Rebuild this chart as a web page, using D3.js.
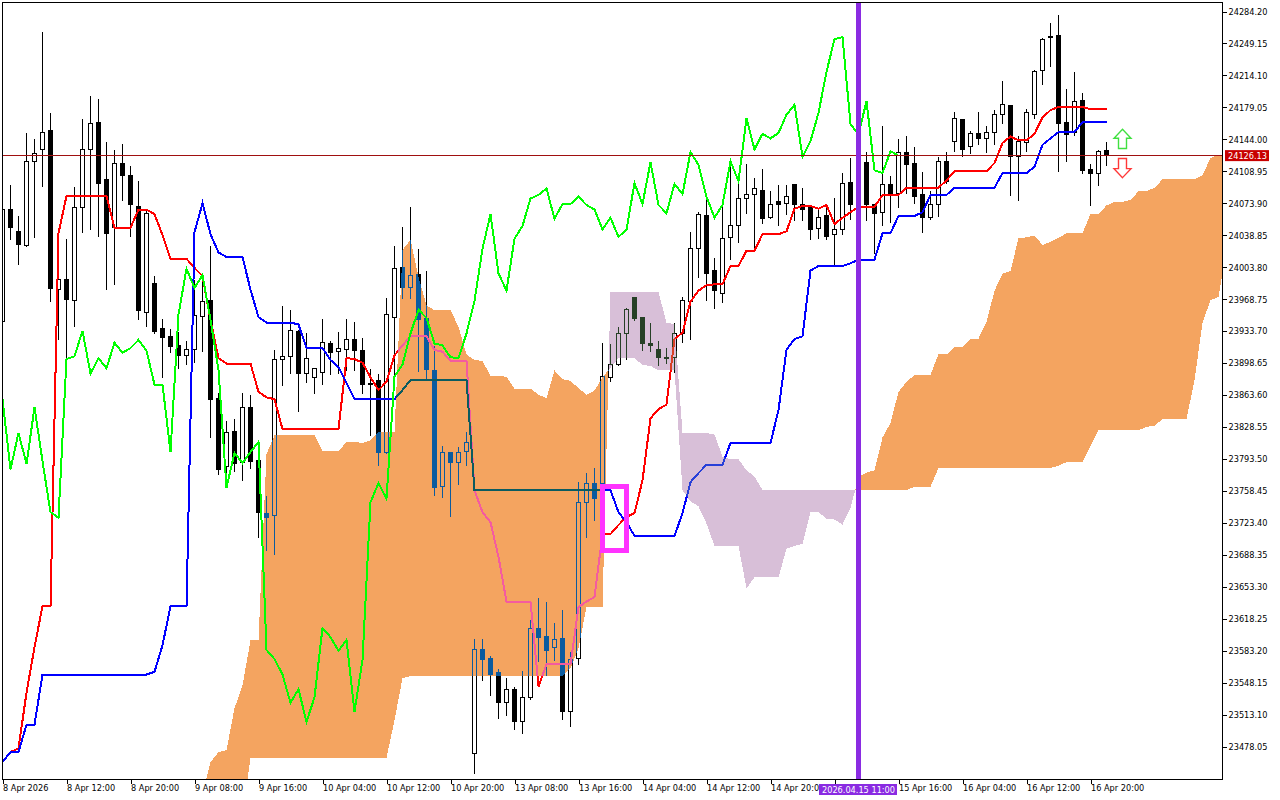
<!DOCTYPE html>
<html><head><meta charset="utf-8">
<script src="https://cdn.jsdelivr.net/npm/d3@7"></script>
<style>
html,body{margin:0;padding:0;background:#fff}
svg{display:block}
text{font-family:"DejaVu Sans Condensed","Liberation Sans",sans-serif;font-size:9.1px;fill:#000}
</style></head><body>
<svg id="c" width="1280" height="800"></svg>
<script>
const opens=[23944,24067,24043,24028,24120,24133,24154,23979,23990,23967,24069,24133,24162,24100,24047,24117,24104,24070,23954,23986,23936,23928,23918,23907,23913,23950,23967,23860,23785,23823,23790,23850,23792,23734,23731,23902,23906,23933,23887,23883,23888,23920,23911,23914,23924,23912,23876,23879,23801,23949,24003,23982,23996,23947,23890,23763,23800,23789,23802,23470,23584,23575,23559,23526,23541,23505,23532,23607,23599,23587,23597,23516,23575,23746,23767,23767,23883,23897,23931,23970,23949,23920,23914,23905,23905,23931,23966,24024,24061,24000,23975,24036,24049,24079,24083,24088,24058,24076,24074,24095,24073,24069,24046,24060,24040,24045,24097,24073,24119,24073,24064,24095,24085,24130,24118,24083,24058,24072,24120,24142,24166,24136,24150,24145,24151,24171,24181,24125,24141,24171,24219,24257,24258,24163,24151,24187,24111,24107,24132];
const highs=[24067,24095,24061,24152,24145,24262,24173,23992,24035,24092,24167,24192,24189,24142,24133,24139,24115,24099,24067,23995,23948,23937,23933,23923,23990,23990,24028,23866,23836,23838,23866,23864,23792,23753,23914,23962,23957,23935,23932,23893,23947,23923,23933,23948,23944,23927,23893,23887,23970,24028,24048,24070,24024,24000,23918,23808,23801,23807,23823,23596,23596,23578,23564,23554,23544,23561,23617,23641,23637,23614,23628,23582,23769,23779,23784,23921,23920,23939,23959,23970,23949,23943,23923,23916,23943,23972,24043,24065,24080,24014,24070,24118,24103,24117,24102,24112,24088,24094,24094,24095,24091,24069,24067,24072,24080,24108,24124,24132,24131,24073,24159,24104,24145,24148,24136,24109,24088,24125,24131,24175,24167,24154,24175,24159,24177,24208,24182,24148,24178,24221,24256,24272,24281,24200,24218,24195,24118,24133,24142];
const lows=[23944,24035,24008,24027,24037,24093,23967,23925,23903,23940,24043,24046,24039,23980,23986,24078,24038,23948,23940,23932,23884,23911,23894,23898,23900,23912,23818,23778,23763,23781,23771,23784,23708,23694,23690,23875,23888,23847,23878,23866,23876,23887,23888,23891,23891,23866,23820,23787,23800,23882,23971,23971,23890,23881,23754,23752,23731,23767,23787,23449,23551,23535,23510,23513,23498,23493,23531,23572,23557,23574,23509,23501,23569,23708,23727,23754,23880,23897,23904,23946,23913,23912,23897,23899,23889,23922,23926,23993,23968,23960,23966,24013,24032,24064,24023,24053,24058,24051,24063,24056,24056,24035,24036,24035,24006,24041,24057,24067,24056,24020,24051,24054,24070,24086,24075,24043,24057,24061,24097,24132,24126,24130,24139,24131,24139,24163,24083,24078,24132,24168,24205,24225,24110,24121,24149,24108,24072,24094,24116];
const closes=[24067,24047,24029,24120,24128,24152,23980,23990,23968,24069,24133,24161,24096,24041,24117,24104,24073,23956,24063,23933,23927,23917,23907,23914,23951,23966,23859,23782,23822,23788,23850,23791,23735,23729,23903,23906,23934,23887,23904,23893,23921,23910,23915,23924,23912,23875,23875,23801,23952,24002,23981,23995,23946,23891,23762,23800,23789,23801,23812,23584,23574,23557,23526,23541,23505,23532,23608,23598,23583,23595,23516,23573,23746,23767,23750,23884,23897,23931,23957,23948,23920,23918,23905,23904,23931,23967,24024,24062,23997,23978,24035,24049,24079,24083,24090,24057,24073,24073,24081,24072,24067,24045,24058,24037,24045,24096,24073,24119,24072,24063,24095,24084,24130,24116,24081,24058,24072,24120,24098,24167,24133,24150,24145,24151,24171,24182,24125,24142,24173,24218,24254,24256,24161,24149,24186,24110,24107,24131,24126.13];
const tenkan=[23461,23472,23476,23537,23587,23632,23632,24041,24082,24082,24082,24082,24082,24082,24047,24047,24047,24067,24067,24062,24039,24013,24013,24013,24003,23994,23946,23904,23898,23898,23898,23898,23867,23861,23859,23826,23826,23826,23826,23826,23826,23826,23826,23904,23903,23899,23883,23869,23878,23907,23918,23928,23928,23928,23913,23911,23901,23901,23901,23759,23735,23724,23686,23637,23637,23637,23637,23544,23568,23568,23568,23568,23631,23637,23642,23711,23711,23721,23730,23734,23770,23838,23848,23853,23925,23932,23966,23978,23984,23985,23985,24005,24005,24022,24022,24040,24040,24040,24043,24068,24071,24071,24068,24072,24051,24058,24064,24070,24070,24070,24083,24083,24083,24091,24091,24091,24091,24091,24099,24109,24109,24109,24109,24109,24118,24140,24147,24143,24143,24150,24168,24176,24179.5,24179.5,24179.5,24179.5,24177,24177,24177];
const kijun=[23461,23472,23472,23502,23502,23557,23557,23557,23557,23557,23557,23557,23557,23557,23557,23557,23557,23557,23557,23560,23589,23632,23632,23632,24042,24074,24040,24020,24015,24015,24015,23979,23949,23943,23943,23943,23943,23941,23915,23915,23915,23902,23894,23877,23859,23859,23859,23859,23859,23859,23869,23880,23880,23880,23880,23880,23880,23880,23880,23759,23759,23759,23759,23759,23759,23759,23759,23759,23759,23759,23759,23759,23759,23759,23759,23759,23759,23735,23724,23709,23709,23709,23709,23709,23709,23734,23768,23778,23787,23787,23787,23811,23811,23811,23811,23811,23811,23847,23913,23925,23928,24000,24005,24005,24005,24005,24008,24012,24012,24012,24041,24041,24060,24060,24060,24064,24083,24083,24083,24091,24091,24091,24091,24091,24091,24107,24107,24107,24107,24114,24138,24145,24152,24152,24152,24163,24163,24163,24163];
const chikou=[23859,23782,23822,23788,23850,23791,23735,23729,23903,23906,23934,23887,23904,23893,23921,23910,23915,23924,23912,23875,23875,23801,23952,24002,23981,23995,23946,23891,23762,23800,23789,23801,23812,23584,23574,23557,23526,23541,23505,23532,23608,23598,23583,23595,23516,23573,23746,23767,23750,23884,23897,23931,23957,23948,23920,23918,23905,23904,23931,23967,24024,24062,23997,23978,24035,24049,24079,24083,24090,24057,24073,24073,24081,24072,24067,24045,24058,24037,24045,24096,24073,24119,24072,24063,24095,24084,24130,24116,24081,24058,24072,24120,24098,24167,24133,24150,24145,24151,24171,24182,24125,24142,24173,24218,24254,24256,24161,24149,24186,24110,24107,24131,24126];
const cloudStart=25;
const spanA=[23425,23461,23472,23474,23520,23545,23594.5,23594.5,23799,23819.5,23819.5,23819.5,23819.5,23819.5,23819.5,23802,23802,23802,23812,23812,23811,23814,23822.5,23822.5,23822.5,24022.5,24034,23993,23962,23956.5,23956.5,23956.5,23938.5,23908,23902,23901,23884.5,23884.5,23883.5,23870.5,23870.5,23870.5,23864,23860,23890.5,23881,23879,23871,23864,23868.5,23883,23893.5,23904,23904,23904,23896.5,23895.5,23890.5,23890.5,23890.5,23759,23747,23741.5,23722.5,23698,23698,23698,23698,23651.5,23663.5,23663.5,23663.5,23663.5,23695,23698,23700.5,23735,23735,23728,23727,23721.5,23739.5,23773.5,23778.5,23781,23817,23833,23867,23878,23885.5,23886,23886,23908,23908,23916.5,23916.5,23925.5,23925.5,23943.5,23978,23996.5,23999.5,24035.5,24036.5,24038.5,24028,24031.5,24036,24041,24041,24041,24062,24062,24071.5,24075.5,24075.5,24077.5,24087,24087,24091,24100,24100,24100,24100,24100,24104.5,24123.5,24127,24125];
const spanB=[23401,23401,23401,23401,23401,23401,23465.5,23465.5,23465.5,23465.5,23465.5,23465.5,23465.5,23465.5,23465.5,23465.5,23465.5,23465.5,23465.5,23465.5,23465.5,23465.5,23465.5,23465.5,23507,23553,23555.4,23555.4,23555.4,23555.4,23555.4,23555.4,23555.4,23555.4,23555.4,23555.4,23555.4,23555.4,23555.4,23555.4,23555.4,23555.4,23555.4,23555.4,23555.4,23555.4,23564,23586,23631,23631,23631,23976.6,23976.6,23976.6,23976.6,23976.6,23976.6,23976.6,23942.6,23941.5,23822,23822,23822,23822,23820,23796,23793,23793,23781,23774,23759.4,23759.4,23759.4,23759.4,23759.4,23759.4,23759.4,23759.4,23759.4,23759.4,23759.4,23759.4,23759.4,23759.4,23759.4,23759.4,23759.4,23759.4,23759.4,23763,23763,23763,23783.5,23783.5,23783.5,23783.5,23783.5,23783.5,23783.5,23783.5,23783.5,23783.5,23783.5,23783.5,23783.5,23783.5,23783.5,23786,23790,23790,23790,23808,23825,23825,23825,23825,23825,23825,23828.5,23830,23837,23837,23837,23837,23880,23942.6,23967.8,23971,24022.6];
const priceTicks=[24284.20,24249.15,24214.10,24179.05,24144.00,24108.95,24073.90,24038.85,24003.80,23968.75,23933.70,23898.65,23863.60,23828.55,23793.50,23758.45,23723.40,23688.35,23653.30,23618.25,23583.20,23548.15,23513.10,23478.05];
const timeBars=[0,8,16,24,32,40,48,56,64,72,80,88,96,104,112,120,128,136];
const timeLabels=["8 Apr 2026","8 Apr 12:00","8 Apr 20:00","9 Apr 08:00","9 Apr 16:00","10 Apr 04:00","10 Apr 12:00","10 Apr 20:00","13 Apr 08:00","13 Apr 16:00","14 Apr 04:00","14 Apr 12:00","14 Apr 20:00","","15 Apr 16:00","16 Apr 04:00","16 Apr 12:00","16 Apr 20:00"];
const markerBar=107, markerLabel="2026.04.15 11:00";
const boxBars=[75,78], boxPrices=[23763.3,23693.1];
const upArrow={bar:140,tip:24155,base:24134};
const downArrow={bar:140,tip:24102,base:24123};

const svg=d3.select("#c");
const x=d3.scaleLinear().domain([0,1]).range([2.5,10.5]);
const y=d3.scaleLinear().domain([24284.20,23478.05]).range([11.5,746.5]);
const L=2.5,T=2.5,R=1222.5,B=779.5;
const px=v=>Math.round(y(v)-0.5)+0.5;

svg.append("rect").attr("width",1280).attr("height",800).attr("fill","#fff");
svg.append("clipPath").attr("id","plot").append("rect").attr("x",L).attr("y",T).attr("width",R-L).attr("height",B-T);
const plot=svg.append("g").attr("clip-path","url(#plot)");
plot.append("rect").attr("x",L).attr("y",T).attr("width",R-L).attr("height",B-T).attr("fill","#fff");

// candles
const idx=d3.range(closes.length);
const cg=plot.append("g").attr("shape-rendering","crispEdges");
cg.selectAll("line").data(idx).join("line")
  .attr("x1",x).attr("x2",x)
  .attr("y1",i=>px(highs[i])).attr("y2",i=>px(lows[i])+1)
  .attr("stroke","#000");
cg.selectAll("rect").data(idx).join("rect")
  .attr("x",i=>x(i)-2).attr("width",4)
  .attr("y",i=>px(Math.max(opens[i],closes[i])))
  .attr("height",i=>Math.max(px(Math.min(opens[i],closes[i]))-px(Math.max(opens[i],closes[i])),1))
  .attr("fill",i=>closes[i]>=opens[i]?"#fff":"#000")
  .attr("stroke","#000");

// tenkan & kijun (below the XOR-blended cloud)
const line=d3.line().x(d=>x(d.i)).y(d=>y(d.v));
const series=a=>a.map((v,i)=>({i,v}));
plot.append("path").attr("d",line(series(tenkan))).attr("fill","none").attr("stroke","#f00").attr("stroke-width",2).attr("shape-rendering","crispEdges");
plot.append("path").attr("d",line(series(kijun))).attr("fill","none").attr("stroke","#00f").attr("stroke-width",2).attr("shape-rendering","crispEdges");

// cloud: runs split where span A and span B cross
const runs=[];let cur=null;
spanA.forEach((a,k)=>{
  const b=spanB[k],i=k+cloudStart,up=a>=b;
  if(cur&&cur.up!==up){
    const pa=spanA[k-1],pb=spanB[k-1],t=(pb-pa)/((a-pa)-(b-pb));
    const cross={i:i-1+t,a:pa+(a-pa)*t,b:pa+(a-pa)*t};
    cur.pts.push(cross);runs.push(cur);cur={up,pts:[cross]};
  }
  if(!cur)cur={up,pts:[]};
  cur.pts.push({i,a,b});
});
runs.push(cur);
const area=d3.area().x(d=>x(d.i)).y0(d=>y(d.a)).y1(d=>y(d.b));
plot.selectAll("path.cloud").data(runs).join("path").attr("class","cloud")
  .attr("d",r=>area(r.pts))
  .attr("fill",r=>r.up?"#0B5B9F":"#274027")
  .attr("shape-rendering","crispEdges")
  .style("mix-blend-mode","difference");

// chikou
plot.append("path").attr("d",line(series(chikou))).attr("fill","none").attr("stroke","#00ff00").attr("stroke-width",2).attr("shape-rendering","crispEdges");

// current price line
plot.append("line").attr("x1",L).attr("x2",R).attr("y1",px(closes[closes.length-1])).attr("y2",px(closes[closes.length-1])).attr("stroke","#a01010").attr("shape-rendering","crispEdges");

// arrows
function arrow(a){
  const c=x(a.bar),t=y(a.tip),b=y(a.base),dir=b>t?1:-1,h=t+dir*9;
  return [[c,t],[c+8.5,h],[c+4,h],[c+4,b],[c-4,b],[c-4,h],[c-8.5,h]].join("L");
}
plot.append("path").attr("d","M"+arrow(upArrow)+"Z").attr("fill","#fff").attr("stroke","#40e040").attr("stroke-width",1.4);
plot.append("path").attr("d","M"+arrow(downArrow)+"Z").attr("fill","#fff").attr("stroke","#ff3838").attr("stroke-width",1.4);

// marker line and box
plot.append("line").attr("x1",x(markerBar)).attr("x2",x(markerBar)).attr("y1",T).attr("y2",B).attr("stroke","#8A2BE2").attr("stroke-width",5).attr("shape-rendering","crispEdges");
plot.append("rect").attr("x",x(boxBars[0])).attr("width",x(boxBars[1])-x(boxBars[0]))
  .attr("y",y(boxPrices[0])).attr("height",y(boxPrices[1])-y(boxPrices[0]))
  .attr("fill","none").attr("stroke","#ff33ff").attr("stroke-width",5).attr("shape-rendering","crispEdges");

// frame
svg.append("rect").attr("x",L).attr("y",T).attr("width",R-L).attr("height",B-T).attr("fill","none").attr("stroke","#000").attr("shape-rendering","crispEdges");

// axes
const ya=svg.append("g").attr("transform",`translate(${R},0)`)
  .call(d3.axisRight(y).tickValues(priceTicks).tickSize(4).tickPadding(2).tickFormat(d3.format(".2f")));
ya.select(".domain").remove();
ya.selectAll("line").attr("shape-rendering","crispEdges");
const xa=svg.append("g").attr("transform",`translate(0,${B})`)
  .call(d3.axisBottom(x).tickValues(timeBars).tickSize(4).tickFormat((d,i)=>timeLabels[i]));
xa.select(".domain").remove();
xa.selectAll("line").attr("shape-rendering","crispEdges");
xa.selectAll("text").attr("text-anchor","start").attr("x",0).attr("y",5).attr("dy","0.71em");

// tags
const last=closes[closes.length-1];
svg.append("rect").attr("x",1225).attr("y",y(last)-5.5).attr("width",44).attr("height",11).attr("fill","#c80000");
svg.append("text").attr("x",1228).attr("y",y(last)+3.5).style("fill","#fff").text(d3.format(".2f")(last));
svg.append("rect").attr("x",819).attr("y",784).attr("width",78).attr("height",11).attr("fill","#8A2BE2");
svg.append("text").attr("x",x(markerBar)).attr("y",793).attr("text-anchor","middle").style("fill","#fff").text(markerLabel);
</script>
</body></html>
